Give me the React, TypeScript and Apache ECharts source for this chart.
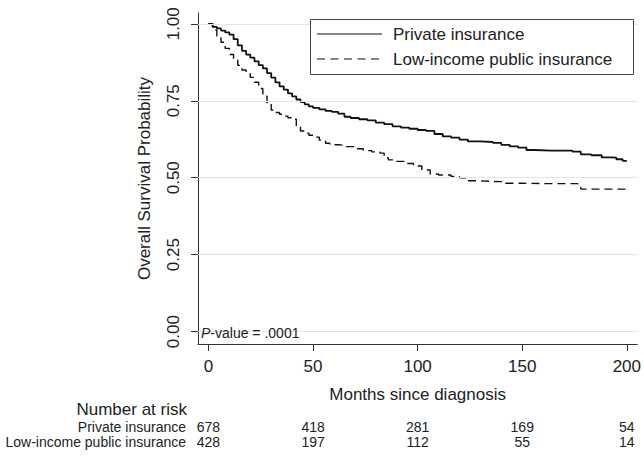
import React, { useEffect, useRef } from "react";
import * as echarts from "echarts";

const privateMonths = [0, 2, 4, 6, 8, 10, 12, 14, 16, 18, 20, 22, 24, 26, 28, 30, 32, 34, 36, 38, 40, 42, 44, 46, 48, 50, 53, 56, 59, 62, 65, 68, 72, 76, 80, 84, 88, 92, 96, 100, 104, 108, 112, 116, 120, 124, 130, 136, 140, 144, 148, 152, 156, 164, 170, 174, 178, 183, 188, 192, 195, 198, 200];
const privateSurv = [1.0, 0.99, 0.985, 0.978, 0.972, 0.965, 0.95, 0.93, 0.912, 0.9, 0.89, 0.878, 0.866, 0.855, 0.84, 0.825, 0.81, 0.797, 0.786, 0.774, 0.764, 0.754, 0.746, 0.738, 0.732, 0.727, 0.722, 0.717, 0.714, 0.708, 0.698, 0.694, 0.69, 0.686, 0.679, 0.674, 0.667, 0.663, 0.659, 0.655, 0.652, 0.642, 0.634, 0.63, 0.624, 0.618, 0.616, 0.613, 0.607, 0.602, 0.598, 0.59, 0.588, 0.588, 0.588, 0.585, 0.576, 0.573, 0.566, 0.565, 0.56, 0.555, 0.555];

const publicMonths = [0, 2, 4, 6, 8, 10, 12, 14, 16, 18, 20, 22, 24, 26, 28, 30, 32, 34, 36, 38, 40, 42, 44, 46, 48, 50, 53, 56, 58, 62, 66, 70, 74, 78, 82, 84, 86, 90, 94, 98, 102, 106, 110, 116, 120, 124, 130, 136, 142, 150, 160, 170, 176, 178, 200];
const publicSurv = [1.0, 0.98, 0.96, 0.94, 0.92, 0.9, 0.882, 0.865, 0.85, 0.838, 0.826, 0.81, 0.79, 0.765, 0.74, 0.72, 0.712, 0.706, 0.7, 0.695, 0.69, 0.665, 0.652, 0.645, 0.638, 0.632, 0.622, 0.612, 0.607, 0.605, 0.601, 0.594, 0.588, 0.584, 0.58, 0.565, 0.558, 0.553, 0.546, 0.538, 0.525, 0.512, 0.509, 0.504, 0.5, 0.49, 0.488, 0.487, 0.482, 0.481, 0.481, 0.481, 0.479, 0.463, 0.463];

const xTicks = [0, 50, 100, 150, 200];
const yTicks = [0, 0.25, 0.5, 0.75, 1];
const seriesNames = ["Private insurance", "Low-income public insurance"];
const riskPrivate = [678, 418, 281, 169, 54];
const riskPublic = [428, 197, 112, 55, 14];

const FONT = "'Liberation Sans', Arial, Helvetica, sans-serif";
const TXT = "#222";

export default function App() {
  const ref = useRef<HTMLDivElement>(null);
  useEffect(() => {
    if (!ref.current) return;
    const chart = echarts.init(ref.current, null, { renderer: "svg" });
    const zip = (xs: number[], ys: number[]) => xs.map((x, i) => [x, ys[i]]);
    chart.setOption({
      animation: false,
      backgroundColor: "#fff",
      grid: { left: 198, right: 3, top: 13, bottom: 114, containLabel: false },
      xAxis: {
        type: "value",
        min: -5,
        max: 205,
        name: "Months since diagnosis",
        nameLocation: "middle",
        nameGap: 42,
        nameTextStyle: { fontSize: 17, color: TXT, fontFamily: FONT },
        axisLine: { show: true, onZero: false, lineStyle: { color: "#333", width: 1 } },
        axisTick: { show: true, length: 7, customValues: xTicks, lineStyle: { color: "#333", width: 1 } },
        axisLabel: { customValues: xTicks, margin: 14, fontSize: 17, color: TXT, fontFamily: FONT },
        splitLine: { show: false },
      },
      yAxis: {
        type: "value",
        min: -0.04,
        max: 1.035,
        name: "Overall Survival Probability",
        nameLocation: "middle",
        nameRotate: 90,
        nameGap: 45,
        nameTextStyle: { fontSize: 17, color: TXT, fontFamily: FONT },
        axisLine: { show: true, onZero: false, lineStyle: { color: "#333", width: 1 } },
        axisTick: { show: true, length: 7, customValues: yTicks, lineStyle: { color: "#333", width: 1 } },
        axisLabel: {
          customValues: yTicks,
          rotate: 90,
          margin: 16,
          fontSize: 17,
          color: TXT,
          fontFamily: FONT,
          formatter: (v: number) => v.toFixed(2),
        },
        splitLine: { show: false },
      },
      series: [
        {
          type: "line",
          name: "grid",
          data: [],
          z: 1,
          silent: true,
          markLine: {
            silent: true,
            symbol: "none",
            label: { show: false },
            lineStyle: { color: "#e4e4e4", width: 1, type: "solid" },
            data: yTicks.map((v) => ({ yAxis: v })),
          },
        },
        {
          type: "line",
          name: seriesNames[0],
          step: "end",
          symbol: "none",
          z: 3,
          lineStyle: { color: "#111", width: 1.8 },
          data: zip(privateMonths, privateSurv),
        },
        {
          type: "line",
          name: seriesNames[1],
          step: "end",
          symbol: "none",
          z: 3,
          lineStyle: { color: "#111", width: 1.4, type: [8, 5] },
          data: zip(publicMonths, publicSurv),
        },
      ],
    });

    const px = (t: number) => chart.convertToPixel({ xAxisIndex: 0 }, t) as number;
    const graphics: any[] = [
      // legend
      { type: "rect", shape: { x: 310.5, y: 19.5, width: 323, height: 55 }, style: { fill: "#fff", stroke: "#444", lineWidth: 1 }, z: 10 },
      { type: "line", shape: { x1: 317, y1: 34, x2: 382, y2: 34 }, style: { stroke: "#111", lineWidth: 1.2 }, z: 11 },
      { type: "line", shape: { x1: 317, y1: 59, x2: 382, y2: 59 }, style: { stroke: "#111", lineWidth: 1.2, lineDash: [8, 5.5] }, z: 11 },
      { type: "text", x: 393, y: 34, style: { text: seriesNames[0], fontSize: 17, fill: TXT, fontFamily: FONT, verticalAlign: "middle" }, z: 11 },
      { type: "text", x: 393, y: 59, style: { text: seriesNames[1], fontSize: 17, fill: TXT, fontFamily: FONT, verticalAlign: "middle" }, z: 11 },
      // p-value
      {
        type: "text",
        x: 201,
        y: 333,
        style: {
          text: "{i|P}-value = .0001",
          fontSize: 14,
          fill: TXT,
          fontFamily: FONT,
          verticalAlign: "middle",
          rich: { i: { fontStyle: "italic", fontSize: 14, fontFamily: FONT, fill: TXT } },
        },
        z: 11,
      },
      // risk table
      { type: "text", x: 187, y: 409, style: { text: "Number at risk", fontSize: 17, fill: TXT, fontFamily: FONT, align: "right", verticalAlign: "middle" } },
      { type: "text", x: 186, y: 427, style: { text: seriesNames[0], fontSize: 14, fill: TXT, fontFamily: FONT, align: "right", verticalAlign: "middle" } },
      { type: "text", x: 186, y: 442, style: { text: seriesNames[1], fontSize: 14, fill: TXT, fontFamily: FONT, align: "right", verticalAlign: "middle" } },
    ];
    xTicks.forEach((t, i) => {
      const x = px(t);
      graphics.push({ type: "text", x, y: 427, style: { text: String(riskPrivate[i]), fontSize: 14, fill: TXT, fontFamily: FONT, align: "center", verticalAlign: "middle" } });
      graphics.push({ type: "text", x, y: 442, style: { text: String(riskPublic[i]), fontSize: 14, fill: TXT, fontFamily: FONT, align: "center", verticalAlign: "middle" } });
    });
    chart.setOption({ graphic: graphics });

    return () => chart.dispose();
  }, []);
  return <div ref={ref} style={{ position: "fixed", left: 0, top: 0, width: 644, height: 458 }} />;
}
